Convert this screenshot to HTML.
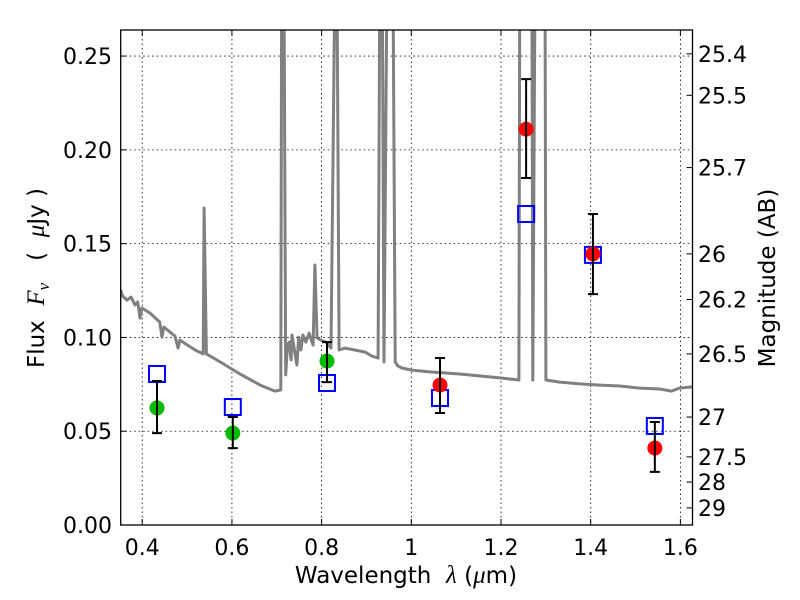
<!DOCTYPE html>
<html><head><meta charset="utf-8"><style>
body{margin:0;background:#fff}
svg{display:block;font-family:"DejaVu Sans","Liberation Sans",sans-serif}
</style></head><body>
<svg id="chart" width="800" height="600" viewBox="0 0 800 600">
<defs><clipPath id="pc"><rect x="120.7" y="30" width="571.8" height="495"/></clipPath></defs>
<rect x="0" y="0" width="800" height="600" fill="#fff"/>
<g id="grid"></g>
<g id="spec" clip-path="url(#pc)"></g>
<g id="marks"></g>
<rect x="120.7" y="30" width="571.8" height="495" fill="none" stroke="#000" stroke-width="1.3"/>
<g id="axes"></g>
<text x="44" y="278" font-size="23" text-anchor="middle" transform="rotate(-90 44 278)" xml:space="preserve">Flux  <tspan font-family="Liberation Serif,serif" font-style="italic" font-size="25">F</tspan><tspan font-family="Liberation Serif,serif" font-style="italic" font-size="17" dy="5">ν</tspan><tspan dy="-5">   (  </tspan><tspan font-family="Liberation Serif,serif" font-style="italic" font-size="25">μ</tspan>Jy )</text>
<text x="775" y="278" font-size="23" text-anchor="middle" transform="rotate(-90 775 278)">Magnitude (AB)</text>
<text x="406" y="583" font-size="23" text-anchor="middle" xml:space="preserve">Wavelength  <tspan font-family="Liberation Serif,serif" font-style="italic" font-size="25">λ</tspan> (<tspan font-family="Liberation Serif,serif" font-style="italic" font-size="25">μ</tspan>m)</text>
</svg>
<script>
const xTicks=[0.4,0.6,0.8,1.0,1.2,1.4,1.6];
const xTickLabels=["0.4","0.6","0.8","1","1.2","1.4","1.6"];
const yTicks=[0,0.05,0.10,0.15,0.20,0.25];
const yTickLabels=["0.00","0.05","0.10","0.15","0.20","0.25"];
const magTicks=[25.4,25.5,25.7,26,26.2,26.5,27,27.5,28,29];
const magTickLabels=["25.4","25.5","25.7","26","26.2","26.5","27","27.5","28","29"];
const specWave=[0.352,0.356,0.366,0.375,0.384,0.390,0.395,0.399,0.417,0.439,0.444,0.448,0.473,0.480,0.484,0.518,0.536,0.538,0.543,0.574,0.618,0.663,0.696,0.709,0.711,0.716,0.720,0.724,0.728,0.732,0.734,0.745,0.749,0.754,0.758,0.765,0.772,0.781,0.785,0.790,0.798,0.810,0.821,0.830,0.834,0.839,0.852,0.874,0.897,0.912,0.926,0.930,0.935,0.939,0.946,0.953,0.959,0.964,0.970,0.979,1.001,1.041,1.108,1.197,1.240,1.242,1.269,1.271,1.276,1.298,1.300,1.331,1.376,1.420,1.465,1.509,1.554,1.580,1.598,1.626];
const specFlux=[0.1253,0.1221,0.1199,0.1215,0.1173,0.1189,0.1103,0.1157,0.1130,0.1082,0.1002,0.1055,0.1007,0.0943,0.0986,0.0933,0.0912,0.169,0.0912,0.0869,0.0805,0.0746,0.0714,0.072,0.30,0.30,0.080,0.0959,0.0975,0.088,0.1013,0.0853,0.1002,0.0933,0.1013,0.0975,0.1023,0.0959,0.1386,0.0997,0.0986,0.0975,0.0943,0.30,0.30,0.0933,0.0943,0.0933,0.0922,0.0901,0.089,0.30,0.30,0.0869,0.30,0.30,0.30,0.0869,0.0848,0.0837,0.0826,0.0816,0.0805,0.0784,0.0773,0.30,0.30,0.0773,0.30,0.30,0.0773,0.0762,0.0752,0.0746,0.0741,0.073,0.0725,0.0714,0.0730,0.0736];
const greenWave=[0.433,0.602,0.812];
const greenFlux=[0.0624,0.049,0.0874];
const greenErrHi=[0.0768,0.0576,0.0975];
const greenErrLo=[0.049,0.041,0.0762];
const redWave=[1.064,1.256,1.405,1.543];
const redFlux=[0.0746,0.211,0.1445,0.041];
const redErrHi=[0.089,0.2377,0.1658,0.0549];
const redErrLo=[0.0597,0.185,0.1231,0.0283];
const modelWave=[0.433,0.602,0.812,1.064,1.256,1.405,1.543];
const modelFlux=[0.0805,0.0629,0.0757,0.0677,0.1658,0.144,0.0528];

const NS="http://www.w3.org/2000/svg";
const X0=120.7,X1=692.5,Y0=525,Y1=30,XMIN=0.352,XMAX=1.627,YMIN=0,YMAX=0.2639;
function sx(v){return X0+(v-XMIN)/(XMAX-XMIN)*(X1-X0);}
function sy(v){return Y0-(v-YMIN)/(YMAX-YMIN)*(Y0-Y1);}
function magToFlux(m){return Math.pow(10,(23.9-m)/2.5);}
function mk(tag,attrs,parent){const e=document.createElementNS(NS,tag);for(const k in attrs)e.setAttribute(k,attrs[k]);parent.appendChild(e);return e;}
const grid=document.getElementById('grid'),axes=document.getElementById('axes'),spec=document.getElementById('spec'),marks=document.getElementById('marks');
xTicks.forEach((v,i)=>{const x=sx(v);
 let g=mk('line',{x1:x,x2:x,y1:Y1,y2:Y0,stroke:'#000','stroke-width':0.8,'stroke-dasharray':'1.5,3'},grid);
 
 
 let t=mk('line',{x1:x,x2:x,y1:Y0,y2:Y0-6,stroke:'#000','stroke-width':1},axes);
 
 
 let t2=mk('line',{x1:x,x2:x,y1:Y1,y2:Y1+6,stroke:'#000','stroke-width':1},axes);
 
 
 let l=mk('text',{x:x,y:555,'font-size':22,'text-anchor':'middle'},axes);l.textContent=xTickLabels[i];
 
 
});
yTicks.forEach((v,i)=>{const y=sy(v);
 let g=mk('line',{x1:X0,x2:X1,y1:y,y2:y,stroke:'#000','stroke-width':0.8,'stroke-dasharray':'1.5,3'},grid);
 
 
 let t=mk('line',{x1:X0,x2:X0+6,y1:y,y2:y,stroke:'#000','stroke-width':1},axes);
 
 
 let l=mk('text',{x:112,y:y+8,'font-size':22,'text-anchor':'end'},axes);l.textContent=yTickLabels[i];
 
 
});
magTicks.forEach((m,i)=>{const y=sy(magToFlux(m));
 let t=mk('line',{x1:X1,x2:X1-6,y1:y,y2:y,stroke:'#000','stroke-width':1},axes);
 
 
 let l=mk('text',{x:698,y:y+8,'font-size':22},axes);l.textContent=magTickLabels[i];
 
 
});
let d=specWave.map((w,i)=>(i?'L':'M')+sx(w).toFixed(1)+','+sy(specFlux[i]).toFixed(1)).join(' ');
let sp=mk('path',{d:d,fill:'none',stroke:'#808080','stroke-width':3,'stroke-linejoin':'round'},spec);


function errbar(w,lo,hi){const x=sx(w),a=sy(hi),b=sy(lo);
 let e=mk('path',{d:`M${x},${a}V${b}M${x-5},${a}H${x+5}M${x-5},${b}H${x+5}`,stroke:'#000','stroke-width':2,fill:'none'},marks);
 
 
}
modelWave.forEach((w,i)=>{const x=sx(w),y=sy(modelFlux[i]);
 let r=mk('rect',{x:x-8,y:y-8,width:16,height:16,fill:'none',stroke:'#0000ff','stroke-width':2},marks);
 
 
});
greenWave.forEach((w,i)=>{
 let c=mk('circle',{cx:sx(w),cy:sy(greenFlux[i]),r:7.5,fill:'#00bb00'},marks);
 
 
 errbar(w,greenErrLo[i],greenErrHi[i]);
});
redWave.forEach((w,i)=>{
 let c=mk('circle',{cx:sx(w),cy:sy(redFlux[i]),r:7.5,fill:'#ff0000'},marks);
 
 
 errbar(w,redErrLo[i],redErrHi[i]);
});
</script>
</body></html>
